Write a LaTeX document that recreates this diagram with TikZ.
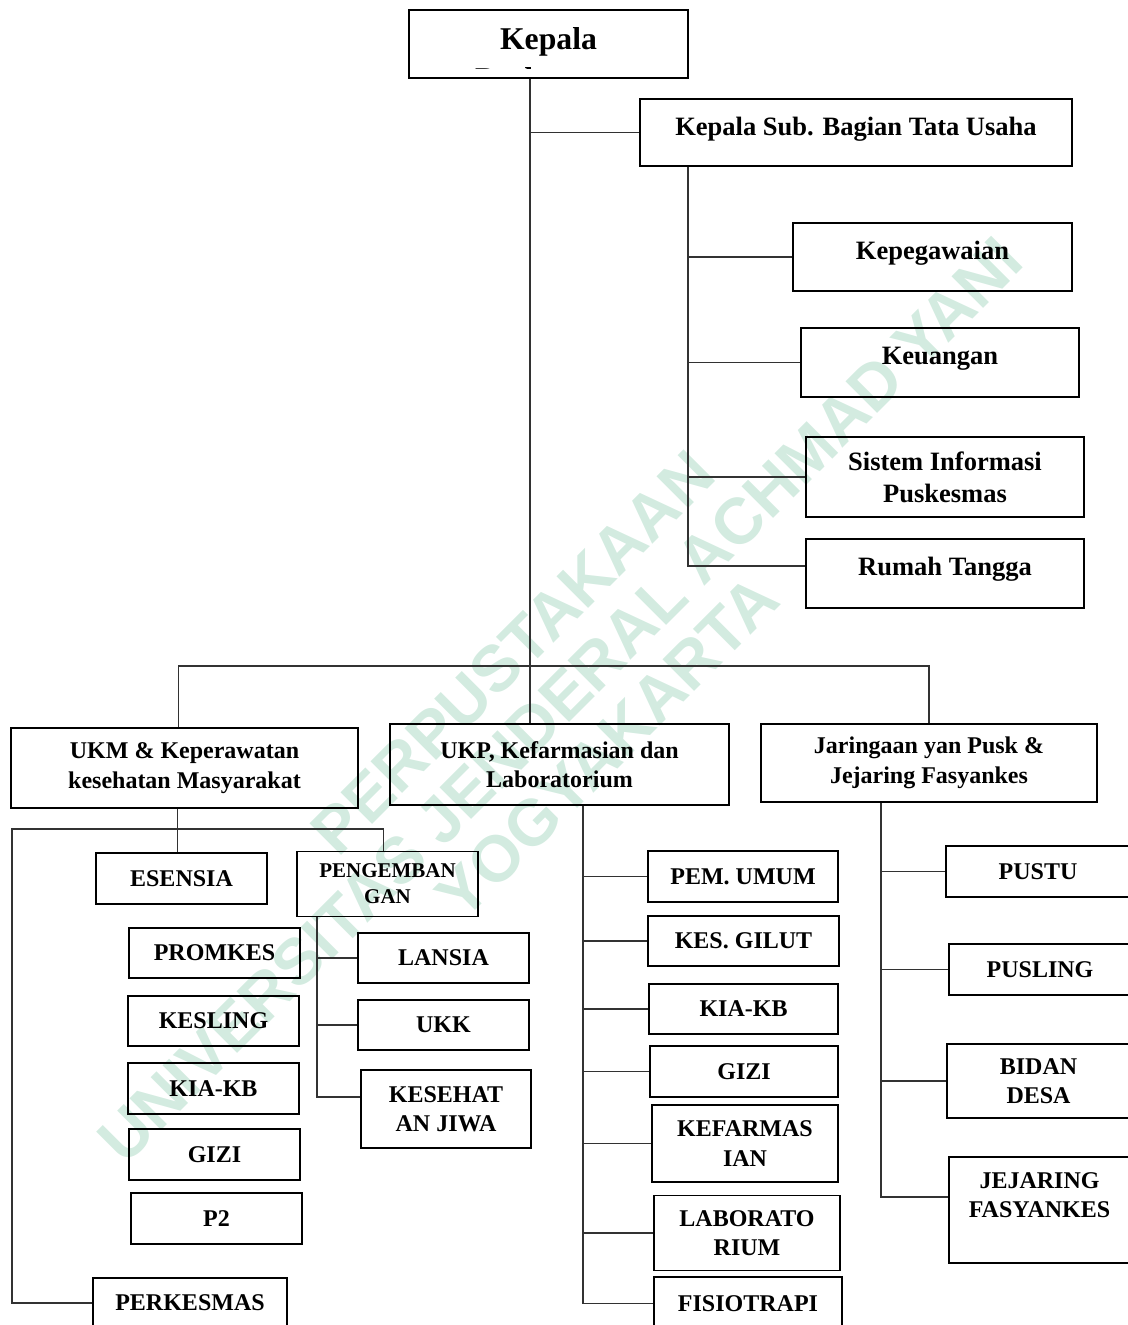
\documentclass[tikz,border=0pt]{standalone}
\usepackage{fontspec}
\setmainfont{Liberation Serif}
\newfontfamily\capfont{Liberation Sans}
\usetikzlibrary{calc}
\definecolor{mint}{RGB}{211,235,224}
\definecolor{garis}{RGB}{50,50,50}

\begin{document}
\begin{tikzpicture}[x=1pt,y=-1pt,
    kotak/.style={draw,line width=1.3pt,inner sep=0pt,align=center},
    atas/.style={font=\fontsize{31.7}{36}\selectfont\bfseries},
    tengah/.style={font=\fontsize{26.5}{32}\selectfont\bfseries},
    bawah/.style={font=\fontsize{24}{29.5}\selectfont\bfseries},
    sambung/.style={draw=garis,line width=1.1pt}]
    \useasboundingbox (0,0) rectangle (1127,1325);

    \node (wm) [rotate=45,text=mint,align=center,font=\fontsize{65}{67}\selectfont\capfont\bfseries] at (560,700)
      {PERPUSTAKAAN\\UNIVERSITAS JENDERAL ACHMAD YANI\\YOGYAKARTA};

    \node (kp) [kotak,atas,minimum width=279,minimum height=68,text depth=10pt] at (548.5,44) {Kepala};
    \begin{scope}
      \clip (kp.north west) rectangle (688,68);
      \node (kpb) [atas,anchor=base,inner sep=0pt] at (549,89) {Puskesmas};
    \end{scope}
    \node (tu) [kotak,tengah,minimum width=432,minimum height=67,text depth=13pt] at (856,132.5) {Kepala Sub. Bagian Tata Usaha};
    \node (peg) [kotak,tengah,minimum width=279,minimum height=68,text depth=14pt] at (932.5,257) {Kepegawaian};
    \node (keu) [kotak,tengah,minimum width=278,minimum height=69,text depth=14pt] at (940,362.5) {Keuangan};
    \node (sip) [kotak,tengah,minimum width=278,minimum height=80] at (945,477) {Sistem Informasi\\Puskesmas};
    \node (rt) [kotak,tengah,minimum width=278,minimum height=69,text depth=14pt] at (945,573.5) {Rumah Tangga};

    \node (ukm) [kotak,bawah,minimum width=347,minimum height=80] at (184.5,768) {UKM \& Keperawatan\\kesehatan Masyarakat};
    \node (ukp) [kotak,bawah,minimum width=339,minimum height=81] at (559.5,764.5) {UKP, Kefarmasian dan\\Laboratorium};
    \node (jar) [kotak,bawah,minimum width=336,minimum height=78] at (929,763) {Jaringaan yan Pusk \&\\Jejaring Fasyankes};

    \node (es) [kotak,bawah,minimum width=171,minimum height=51] at (181.5,878.5) {ESENSIA};
    \node (pg) [kotak,font=\fontsize{21}{26}\selectfont\bfseries,minimum width=181,minimum height=65] at (387.5,884) {PENGEMBAN\\GAN};
    \node (pro) [kotak,bawah,minimum width=171,minimum height=50] at (214.5,953) {PROMKES};
    \node (ksl) [kotak,bawah,minimum width=171,minimum height=50] at (213.5,1021) {KESLING};
    \node (kia) [kotak,bawah,minimum width=171,minimum height=51] at (213.5,1088.5) {KIA-KB};
    \node (gz) [kotak,bawah,minimum width=171,minimum height=51] at (214.5,1154.5) {GIZI};
    \node (p2) [kotak,bawah,minimum width=171,minimum height=51] at (216.5,1218.5) {P2};
    \node (pk) [kotak,bawah,minimum width=194,minimum height=50] at (190,1303) {PERKESMAS};
    \node (ln) [kotak,bawah,minimum width=171,minimum height=50] at (443.5,958) {LANSIA};
    \node (ukk) [kotak,bawah,minimum width=171,minimum height=50] at (443.5,1025) {UKK};
    \node (kj) [kotak,bawah,minimum width=170,minimum height=78] at (446,1109) {KESEHAT\\AN JIWA};

    \node (pu) [kotak,bawah,minimum width=190,minimum height=51] at (743,876.5) {PEM. UMUM};
    \node (kg) [kotak,bawah,minimum width=191,minimum height=50] at (743.5,941) {KES. GILUT};
    \node (kb) [kotak,bawah,minimum width=189,minimum height=50] at (743.5,1009) {KIA-KB};
    \node (gi) [kotak,bawah,minimum width=188,minimum height=51] at (744,1071.5) {GIZI};
    \node (kf) [kotak,bawah,minimum width=186,minimum height=77] at (745,1143.5) {KEFARMAS\\IAN};
    \node (lab) [kotak,bawah,minimum width=186,minimum height=75] at (747,1233) {LABORATO\\RIUM};
    \node (fis) [kotak,bawah,minimum width=188,minimum height=53] at (748,1303.5) {FISIOTRAPI};

    \node (pst) [kotak,bawah,minimum width=184,minimum height=51] at (1038,871.5) {PUSTU};
    \node (psl) [kotak,bawah,minimum width=182,minimum height=51] at (1040,969.5) {PUSLING};
    \node (bd) [kotak,bawah,minimum width=183,minimum height=74] at (1038.5,1081) {BIDAN\\DESA};
    \node (jf) [kotak,bawah,minimum width=181,minimum height=106] at (1039.5,1210) {JEJARING\\FASYANKES\\\mbox{}};

    \coordinate (ts) at (530,666);
    \coordinate (tb) at (688,566);
    \coordinate (ub) at (12,829);
    \coordinate (pb) at (317,0);
    \coordinate (lb) at (583,0);
    \coordinate (jb) at (881,0);

    \draw[sambung] (kp.south -| ts) -- (ukp.north -| ts)
      (ts |- tu.west) -- (tu.west)
      ([xshift=-6pt]ukm.north) -- ([xshift=-6pt]ukm.north |- ts) -- (jar.north |- ts) -- (jar.north);
    \draw[sambung] (tu.south -| tb) -- (tb) -- (tb -| rt.west)
      (tb |- peg.west) -- (peg.west)
      (tb |- keu.west) -- (keu.west)
      (tb |- sip.west) -- (sip.west);
    \draw[sambung] ([xshift=-7pt]ukm.south) -- ([xshift=-7pt]ukm.south |- es.north)
      ([xshift=-4pt]pg.north) |- (ub) |- (pk.west);
    \draw[sambung] (pg.south -| pb) |- ([yshift=12pt]kj.west)
      (pb |- ln.west) -- (ln.west)
      (pb |- ukk.west) -- (ukk.west);
    \draw[sambung] (ukp.south -| lb) |- (fis.west)
      (lb |- pu.west) -- (pu.west)
      (lb |- kg.west) -- (kg.west)
      (lb |- kb.west) -- (kb.west)
      (lb |- gi.west) -- (gi.west)
      (lb |- kf.west) -- (kf.west)
      (lb |- lab.west) -- (lab.west);
    \draw[sambung] (jar.south -| jb) |- ([yshift=13pt]jf.west)
      (jb |- pst.west) -- (pst.west)
      (jb |- psl.west) -- (psl.west)
      (jb |- bd.west) -- (bd.west);
  \end{tikzpicture}
\end{document}
